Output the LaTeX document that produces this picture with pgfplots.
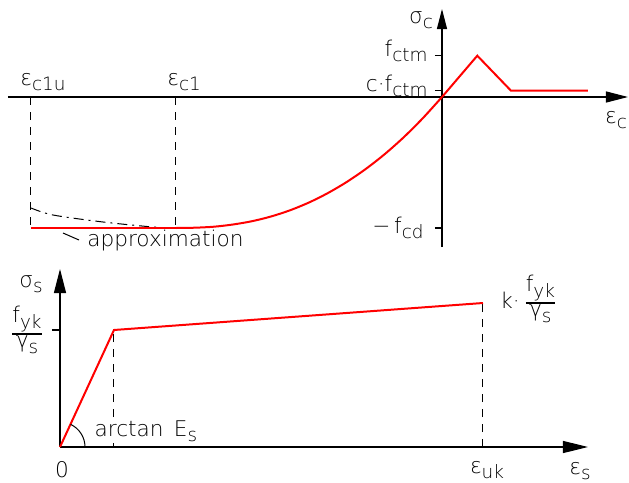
\documentclass[border=0pt]{standalone}
\usepackage{amsmath}
\usepackage{fontspec}
\setmainfont{DejaVu Sans ExtraLight}
\usepackage{pgfplots}
\pgfplotsset{compat=1.18}
\usetikzlibrary{arrows.meta}

% lowered subscript set in the text font
\newcommand\sub[1]{\raisebox{-2.7pt}{\fontsize{9.2}{9.2}\selectfont #1}}
% fraction with text-font numerator and denominator
\newcommand\frc[2]{\ensuremath{\genfrac{}{}{0.7pt}{1}{\hbox{#1}}{\hbox{#2}}}}

\pgfplotsset{
  sketch/.style={
    x=0.5pt, y=0.5pt,
    axis lines=middle,
    axis line style={line width=0.6pt, black},
    xtick=\empty, ytick=\empty,
    clip=false,
  },
  guide/.style={black, line width=0.5pt, dash pattern=on 4pt off 3.5pt},
}

\begin{document}
\begin{tikzpicture}[font=\fontsize{10.8}{13}\selectfont]
\path[use as bounding box] (0pt,0pt) rectangle (314.5pt,-241.5pt);

% ---------------- concrete ----------------
\begin{axis}[sketch,
  at={(221pt,-48.5pt)}, anchor=origin,
  xmin=-434, xmax=186, ymin=-150, ymax=88,
  x axis line style={-{Triangle[length=11pt,width=5.5pt]}},
  y axis line style={-{Triangle[length=10pt,width=5pt]}},
]
% strain limits
\addplot[guide] coordinates {(-411,0) (-411,-131)};
\addplot[guide] coordinates {(-266,0) (-266,-131)};
% descending branch
\addplot[black, line width=0.5pt, smooth, dash pattern=on 5pt off 2.5pt on 1pt off 2.5pt]
  coordinates {(-411,-111) (-389,-118) (-339,-125) (-289,-130) (-266,-131)};
% compression: plateau and parabolic branch
\addplot[red, line width=1pt] coordinates {(-411,-131) (-266,-131)};
\addplot[red, line width=1pt, smooth] coordinates {
  (-266,-131) (-247,-130.7) (-228,-129.7) (-209,-127.5) (-190,-124.2)
  (-171,-119.5) (-152,-113.3) (-133,-105.5) (-114,-96.0) (-95,-84.8)
  (-76,-71.8) (-57,-56.9) (-38,-40.0) (-19,-21.0) (0,0)};
% tension
\addplot[red, line width=1pt] coordinates {(0,0) (35.3,41.3) (69,6.3) (146,6.3)};
% stress ticks
\draw[line width=0.6pt] (axis cs:-7,41.3) -- (axis cs:0,41.3);
\draw[line width=0.6pt] (axis cs:-7,6.3) -- (axis cs:0,6.3);
\draw[line width=0.6pt] (axis cs:-7,-131) -- (axis cs:0,-131);
\node[anchor=east, inner sep=0pt] at (axis cs:-14,46) {f\sub{ctm}};
\node[anchor=east, inner sep=0pt] at (axis cs:-14,11) {c·f\sub{ctm}};
\node[anchor=east, inner sep=0pt] at (axis cs:-18,-131) {−\,f\sub{cd}};
% axis names
\node[anchor=center, inner sep=0pt] at (axis cs:-21,77) {σ\sub{c}};
\node[anchor=center, inner sep=0pt] at (axis cs:174,-23) {ε\sub{c}};
\node[anchor=west, inner sep=0pt] at (axis cs:-422,15) {ε\sub{c1u}};
\node[anchor=west, inner sep=0pt] at (axis cs:-275,15) {ε\sub{c1}};
% annotation
\draw[line width=0.5pt] (axis cs:-379,-136) -- (axis cs:-363,-143);
\node[anchor=base west, inner sep=0pt] at (axis cs:-355,-149) {approximation};
\end{axis}

% ---------------- reinforcing steel ----------------
\begin{axis}[sketch,
  at={(30pt,-223.5pt)}, anchor=origin,
  xmin=0, xmax=528, ymin=0, ymax=178,
  x axis line style={-{Triangle[length=12.5pt,width=6pt]}},
  y axis line style={-{Triangle[length=12pt,width=6pt]}},
]
\addplot[guide] coordinates {(54,0) (54,117)};
\addplot[guide] coordinates {(423,0) (423,144)};
\addplot[red, line width=1pt] coordinates {(0,0) (54,117) (423,144)};
\draw[line width=0.6pt] (axis cs:-8,117) -- (axis cs:0,117);
\draw[line width=0.5pt] (axis cs:25,0) arc[start angle=0, end angle=65, radius=12.5pt];
\node[anchor=center, inner sep=0pt] at (axis cs:-29,163) {σ\sub{s}};
\node[anchor=center, inner sep=0pt] at (axis cs:-33,117) {\frc{f\sub{yk}}{γ\sub{s}}};
\node[anchor=west, inner sep=0pt] at (axis cs:440,148) {k·\,\frc{f\sub{yk}}{γ\sub{s}}};
\node[anchor=base west, inner sep=0.6pt, fill=white] at (axis cs:33,11) {arctan\, E\sub{s}};
\node[anchor=center, inner sep=0pt] at (axis cs:2,-23) {0};
\node[anchor=center, inner sep=0pt] at (axis cs:427,-23) {ε\sub{uk}};
\node[anchor=center, inner sep=0pt] at (axis cs:520,-24) {ε\sub{s}};
\end{axis}
\end{tikzpicture}
\end{document}
